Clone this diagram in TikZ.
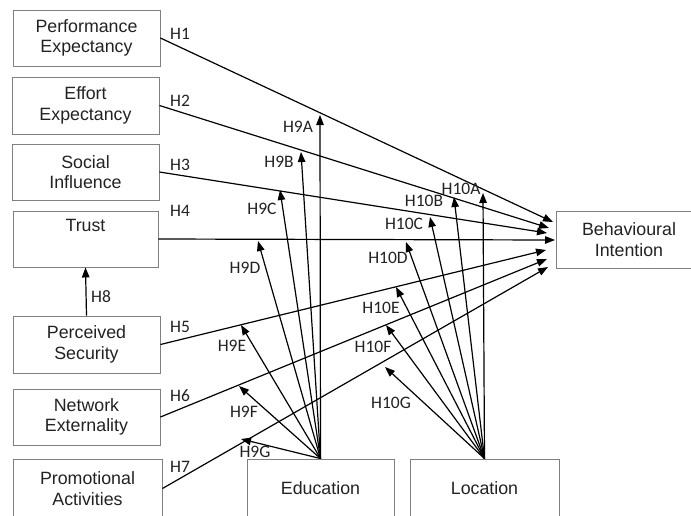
\documentclass[tikz,border=0pt]{standalone}
\usepackage{fontspec}
\setmainfont{Liberation Sans}
\newfontfamily\lblfont{Carlito}
\usetikzlibrary{arrows.meta}
\definecolor{boxgray}{HTML}{808080}
\definecolor{txt}{HTML}{222222}
\begin{document}
\begin{tikzpicture}[x=1pt,y=-1pt,
 box/.style={draw=boxgray, line width=0.9pt, minimum width=147pt, minimum height=56pt, inner sep=0pt, align=center, font=\fontsize{17.8}{20.5}\selectfont, text=txt},
 conn/.style={line width=1.2pt, -{Triangle[length=10pt,width=7.5pt]}},
 hlab/.style={font=\lblfont\fontsize{17.5}{20}\selectfont, inner sep=0pt, text=txt}]
\useasboundingbox (0,0) rectangle (691,515);

% boxes
\node[box] (PE) at (86.5,38) {Performance\\Expectancy};
\node[box, minimum height=57pt] (EE) at (85.5,105.5) {Effort\\Expectancy};
\node[box] (SI) at (85.5,172) {Social\\Influence};
\node[box, minimum width=145pt] (TR) at (85.5,239) {Trust\\\strut};
\node[box, minimum height=57pt] (PS) at (86.5,344.5) {Perceived\\Security};
\node[box] (NE) at (86.5,417) {Network\\Externality};
\node[box, minimum width=149pt, minimum height=59pt] (PA) at (87.5,488.5) {Promotional\\Activities};
\node[box, minimum height=59pt] (ED) at (320.5,488.5) {Education};
\node[box, minimum width=149pt, minimum height=59pt] (LO) at (484.5,488.5) {Location};
\node[box, minimum width=146pt, minimum height=57pt] (BI) at (629,239.5) {Behavioural\\Intention};

% end points at Behavioural Intention
\coordinate (bi1) at (553,222);
\coordinate (bi2) at (549,228);
\coordinate (bi3) at (547,233);
\coordinate (bi4) at (555,240);
\coordinate (bi5) at (546,250);
\coordinate (bi6) at (547,259);
\coordinate (bi7) at (548,267);

\draw[conn] (PE.east) -- (bi1);
\draw[conn] (EE.east) -- (bi2);
\draw[conn] (SI.east) -- (bi3);
\draw[conn] (TR.east) -- (bi4);
\draw[conn] (PS.east) -- (bi5);
\draw[conn] (NE.east) -- (bi6);
\draw[conn] (PA.east) -- (bi7);
\draw[conn] (PS.north) -- (TR.south);

% moderator tips
\coordinate (t9a) at (320,115);
\coordinate (t9b) at (301,152);
\coordinate (t9c) at (280,190);
\coordinate (t9d) at (258,241);
\coordinate (t9e) at (241,325);
\coordinate (t9f) at (239,386);
\coordinate (t9g) at (241,439);
\coordinate (t10a) at (483,193);
\coordinate (t10b) at (454,197);
\coordinate (t10c) at (430,217);
\coordinate (t10d) at (406,242);
\coordinate (t10e) at (396,287);
\coordinate (t10f) at (386,325);
\coordinate (t10g) at (385,367);

\foreach \t in {t9a,t9b,t9c,t9d,t9e,t9f,t9g}
  \draw[conn] (ED.north) -- (\t);
\foreach \t in {t10a,t10b,t10c,t10d,t10e,t10f,t10g}
  \draw[conn] (LO.north) -- (\t);

% labels
\node[hlab] (lH1) at (180,34) {H1};
\node[hlab] (lH2) at (180,101) {H2};
\node[hlab] (lH3) at (180,165) {H3};
\node[hlab] (lH4) at (180,211) {H4};
\node[hlab] (lH5) at (180,327) {H5};
\node[hlab] (lH6) at (180,396) {H6};
\node[hlab] (lH7) at (180,467) {H7};
\node[hlab] (lH8) at (101,297) {H8};
\node[hlab] (l9a) at (298,127) {H9A};
\node[hlab] (l9b) at (279,162) {H9B};
\node[hlab] (l9c) at (262,209) {H9C};
\node[hlab] (l9d) at (245,268) {H9D};
\node[hlab] (l9e) at (232,346) {H9E};
\node[hlab] (l9f) at (244,412) {H9F};
\node[hlab] (l9g) at (255,452) {H9G};
\node[hlab] (l10a) at (461,189) {H10A};
\node[hlab] (l10b) at (424,201) {H10B};
\node[hlab] (l10c) at (404,224) {H10C};
\node[hlab] (l10d) at (388,258) {H10D};
\node[hlab] (l10e) at (381,308) {H10E};
\node[hlab] (l10f) at (373,347) {H10F};
\node[hlab] (l10g) at (391,403) {H10G};
\end{tikzpicture}
\end{document}
